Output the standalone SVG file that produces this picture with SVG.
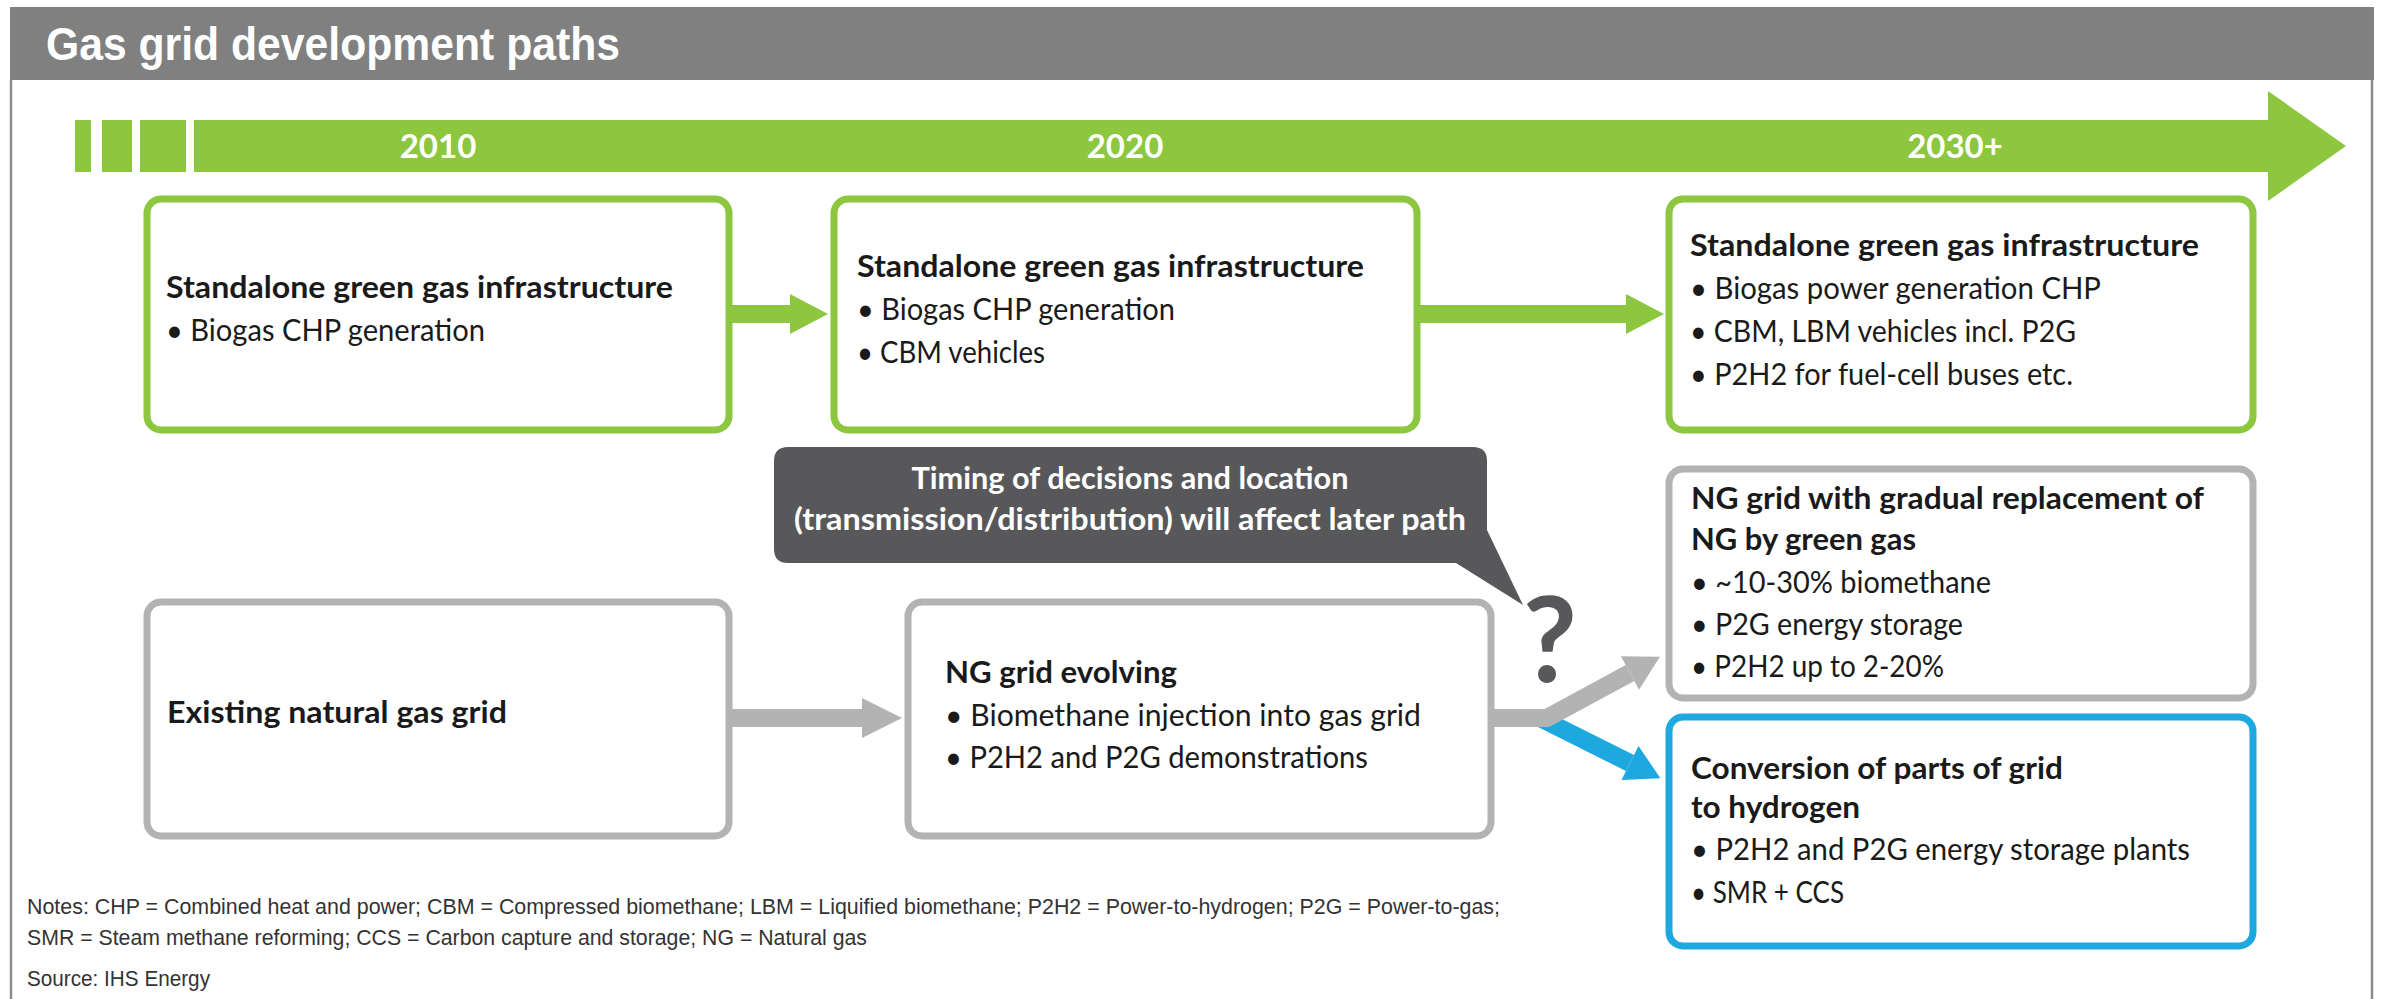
<svg xmlns="http://www.w3.org/2000/svg" width="2381" height="999" viewBox="0 0 2381 999">
  <defs>
    <style>
      .frame{fill:none;stroke:#8c8c8c;stroke-width:2.5}
      .hdr{fill:#808080}
      .ttl{font-family:"Liberation Sans",Arial,sans-serif;font-weight:bold;font-size:46px;fill:#fff}
      .yr{font-family:Lato,"Noto Sans",sans-serif;font-weight:bold;font-size:33px;fill:#fff;text-anchor:middle}
      .box{fill:#fff;stroke-width:7}
      .g{stroke:#8dc63f}
      .n{stroke:#b3b3b3}
      .b{stroke:#1ea8e0}
      .t{font-family:Lato,"Noto Sans",sans-serif;font-size:30px;fill:#1a1a1a}
      .h{font-weight:bold}
      .co{font-family:Lato,"Noto Sans",sans-serif;font-weight:bold;font-size:31px;fill:#fff;text-anchor:middle}
      .q{font-family:Lato,"Noto Sans",sans-serif;font-weight:bold;font-size:118px;fill:#58585a;text-anchor:middle}
      .note{font-family:"Liberation Sans",Arial,sans-serif;font-size:22px;fill:#333}
      .shaft{fill:none;stroke-width:18;stroke-linecap:butt;stroke-linejoin:miter}
    </style>
    <marker id="head-green" markerUnits="userSpaceOnUse" orient="auto" refX="0" refY="0" markerWidth="40" markerHeight="40" overflow="visible">
      <path d="M0,-20 L38,0 L0,20 Z" fill="#8dc63f"/>
    </marker>
    <marker id="head-grey" markerUnits="userSpaceOnUse" orient="auto" refX="0" refY="0" markerWidth="40" markerHeight="40" overflow="visible">
      <path d="M0,-20 L40,0 L0,20 Z" fill="#b3b3b3"/>
    </marker>
    <marker id="head-grey-s" markerUnits="userSpaceOnUse" orient="auto" refX="0" refY="0" markerWidth="40" markerHeight="40" overflow="visible">
      <path d="M0,-19 L34,0 L0,19 Z" fill="#b3b3b3"/>
    </marker>
    <marker id="head-blue" markerUnits="userSpaceOnUse" orient="auto" refX="0" refY="0" markerWidth="40" markerHeight="40" overflow="visible">
      <path d="M0,-19 L34,0 L0,19 Z" fill="#1ea8e0"/>
    </marker>
  </defs>

  <rect width="2381" height="999" fill="#fff"/>

  <!-- page frame and header band -->
  <g id="header">
    <path class="frame" d="M11,80 V999 M2372,80 V999"/>
    <rect class="hdr" x="10" y="7" width="2364" height="73"/>
    <text class="ttl" x="46" y="60" textLength="574" lengthAdjust="spacingAndGlyphs">Gas grid development paths</text>
  </g>

  <!-- time axis -->
  <g id="timeline" fill="#8dc63f">
    <rect x="75" y="120" width="16" height="52"/>
    <rect x="102" y="120" width="30" height="52"/>
    <rect x="140" y="120" width="46" height="52"/>
    <path d="M194,120 H2268 V91 L2346,146 L2268,201 V172 H194 Z"/>
    <text class="yr" x="438" y="158">2010</text>
    <text class="yr" x="1125" y="158">2020</text>
    <text class="yr" x="1955" y="158">2030+</text>
  </g>

  <!-- connectors -->
  <g id="connectors">
    <line class="shaft" stroke="#8dc63f" x1="729" y1="314" x2="790" y2="314" marker-end="url(#head-green)"/>
    <line class="shaft" stroke="#8dc63f" x1="1417" y1="314" x2="1626" y2="314" marker-end="url(#head-green)"/>
    <line class="shaft" stroke="#b3b3b3" x1="729" y1="718" x2="862" y2="718" marker-end="url(#head-grey)"/>
    <line class="shaft" stroke="#1ea8e0" x1="1540" y1="718" x2="1630" y2="763" marker-end="url(#head-blue)"/>
    <polyline class="shaft" stroke="#b3b3b3" points="1491,718 1547,718 1630,673" marker-end="url(#head-grey-s)"/>
  </g>

  <!-- 2010 -->
  <g id="node-green-2010">
    <rect class="box g" x="147" y="199" width="582" height="231" rx="14"/>
    <text class="t h" x="166" y="298" textLength="507" lengthAdjust="spacingAndGlyphs">Standalone green gas infrastructure</text>
    <text class="t" x="166" y="341" textLength="319" lengthAdjust="spacingAndGlyphs">• Biogas CHP generation</text>
  </g>

  <!-- 2020 -->
  <g id="node-green-2020">
    <rect class="box g" x="834" y="199" width="583" height="231" rx="14"/>
    <text class="t h" x="857" y="277" textLength="507" lengthAdjust="spacingAndGlyphs">Standalone green gas infrastructure</text>
    <text class="t" x="857" y="320" textLength="318" lengthAdjust="spacingAndGlyphs">• Biogas CHP generation</text>
    <text class="t" x="857" y="363" textLength="188" lengthAdjust="spacingAndGlyphs">• CBM vehicles</text>
  </g>

  <!-- 2030+ -->
  <g id="node-green-2030">
    <rect class="box g" x="1669" y="199" width="584" height="231" rx="14"/>
    <text class="t h" x="1690" y="256" textLength="509" lengthAdjust="spacingAndGlyphs">Standalone green gas infrastructure</text>
    <text class="t" x="1690" y="299" textLength="411" lengthAdjust="spacingAndGlyphs">• Biogas power generation CHP</text>
    <text class="t" x="1690" y="342" textLength="386" lengthAdjust="spacingAndGlyphs">• CBM, LBM vehicles incl. P2G</text>
    <text class="t" x="1690" y="385" textLength="383" lengthAdjust="spacingAndGlyphs">• P2H2 for fuel-cell buses etc.</text>
  </g>

  <!-- decision callout -->
  <g id="callout">
    <path d="M788,447 H1473 Q1487,447 1487,461 V530 L1523,605 L1456,563 H788 Q774,563 774,549 V461 Q774,447 788,447 Z" fill="#58585a"/>
    <text class="co" x="1130" y="489" textLength="437" lengthAdjust="spacingAndGlyphs">Timing of decisions and location</text>
    <text class="co" x="1130" y="530" textLength="672" lengthAdjust="spacingAndGlyphs">(transmission/distribution) will affect later path</text>
    <text class="q" x="1550" y="682">?</text>
  </g>

  <!-- existing grid -->
  <g id="node-existing-grid">
    <rect class="box n" x="147" y="602" width="582" height="234" rx="14"/>
    <text class="t h" x="167" y="723" textLength="340" lengthAdjust="spacingAndGlyphs">Existing natural gas grid</text>
  </g>

  <!-- evolving grid -->
  <g id="node-ng-evolving">
    <rect class="box n" x="908" y="602" width="583" height="234" rx="14"/>
    <text class="t h" x="945" y="683" textLength="232" lengthAdjust="spacingAndGlyphs">NG grid evolving</text>
    <text class="t" x="945" y="726" textLength="476" lengthAdjust="spacingAndGlyphs">• Biomethane injection into gas grid</text>
    <text class="t" x="945" y="768" textLength="423" lengthAdjust="spacingAndGlyphs">• P2H2 and P2G demonstrations</text>
  </g>

  <!-- gradual replacement -->
  <g id="node-ng-green-gas">
    <rect class="box n" x="1669" y="469" width="584" height="229" rx="14"/>
    <text class="t h" x="1691" y="509" textLength="513" lengthAdjust="spacingAndGlyphs">NG grid with gradual replacement of</text>
    <text class="t h" x="1691" y="550" textLength="225" lengthAdjust="spacingAndGlyphs">NG by green gas</text>
    <text class="t" x="1691" y="593" textLength="300" lengthAdjust="spacingAndGlyphs">• ~10-30% biomethane</text>
    <text class="t" x="1691" y="635" textLength="272" lengthAdjust="spacingAndGlyphs">• P2G energy storage</text>
    <text class="t" x="1691" y="677" textLength="253" lengthAdjust="spacingAndGlyphs">• P2H2 up to 2-20%</text>
  </g>

  <!-- hydrogen conversion -->
  <g id="node-hydrogen">
    <rect class="box b" x="1669" y="717" width="584" height="229" rx="14"/>
    <text class="t h" x="1691" y="779" textLength="372" lengthAdjust="spacingAndGlyphs">Conversion of parts of grid</text>
    <text class="t h" x="1691" y="818" textLength="169" lengthAdjust="spacingAndGlyphs">to hydrogen</text>
    <text class="t" x="1691" y="860" textLength="499" lengthAdjust="spacingAndGlyphs">• P2H2 and P2G energy storage plants</text>
    <text class="t" x="1691" y="903" textLength="153" lengthAdjust="spacingAndGlyphs">• SMR + CCS</text>
  </g>

  <!-- footnotes -->
  <g id="notes">
    <text class="note" x="27" y="914" textLength="1473" lengthAdjust="spacingAndGlyphs">Notes: CHP = Combined heat and power; CBM = Compressed biomethane; LBM = Liquified biomethane; P2H2 = Power-to-hydrogen; P2G = Power-to-gas;</text>
    <text class="note" x="27" y="945" textLength="840" lengthAdjust="spacingAndGlyphs">SMR = Steam methane reforming; CCS = Carbon capture and storage; NG = Natural gas</text>
    <text class="note" x="27" y="986" textLength="183" lengthAdjust="spacingAndGlyphs">Source: IHS Energy</text>
  </g>
</svg>
